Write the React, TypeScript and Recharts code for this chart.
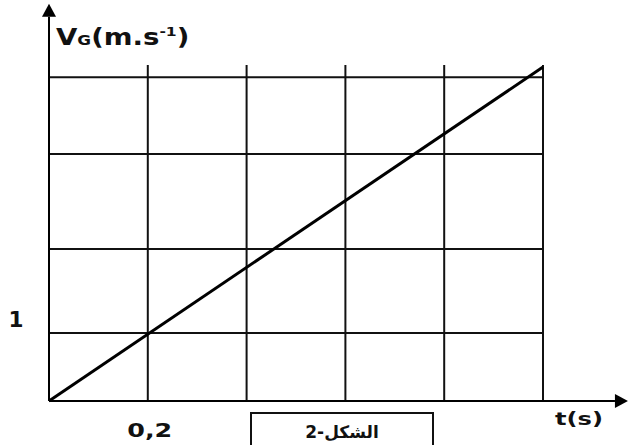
import { ComposedChart, Line, XAxis, YAxis, ReferenceLine } from 'recharts'

// t (s) and V_G (m/s) of the straight line
const times = [0, 1]
const speeds = [0, 4.91]

// grid / tick positions
const tTicks = [0, 0.2, 0.4, 0.6, 0.8, 1]
const vTicks = [0, 1, 2.235, 3.63, 4.76]
const tLabel = 0.2
const vLabel = 1

// axis extents (arrow tips)
const tMax = 1
const vMax = 4.94
const tArrow = 1.172
const vArrow = 5.84

const data = times.map((t, i) => ({ t, v: speeds[i] }))

const font = '"DejaVu Sans", Verdana, sans-serif'

function Arrow(props: any) {
  const { x1, y1, x2, y2 } = props
  const len = 13
  const half = 7
  const dx = x2 - x1
  const dy = y2 - y1
  const d = Math.sqrt(dx * dx + dy * dy) || 1
  const ux = dx / d
  const uy = dy / d
  const bx = x2 - ux * len
  const by = y2 - uy * len
  const pts = `${x2},${y2} ${bx - uy * half},${by + ux * half} ${bx + uy * half},${by - ux * half}`
  return (
    <g>
      <line x1={x1} y1={y1} x2={bx} y2={by} stroke="#000" strokeWidth={2} />
      <polygon points={pts} fill="#000" />
    </g>
  )
}

const renderYTick = (props: any) => {
  const { y, payload } = props
  if (payload.value !== vLabel) return <g />
  return (
    <text x={16} y={y - 6} textAnchor="middle" fontFamily={font} fontWeight="bold" fontSize={21} fill="#111"
      textLength={15} lengthAdjust="spacingAndGlyphs">
      1
    </text>
  )
}

const renderXTick = (props: any) => {
  const { x, payload } = props
  if (payload.value !== tLabel) return <g />
  return (
    <text x={x + 2} y={437} textAnchor="middle" fontFamily={font} fontWeight="bold" fontSize={20} fill="#111"
      textLength={45} lengthAdjust="spacingAndGlyphs">
      0,2
    </text>
  )
}

export default function App() {
  return (
    <div style={{ position: 'absolute', left: 0, top: 0, background: '#fff' }}>
      <ComposedChart width={630} height={445} data={data} margin={{ top: 65, right: 87, bottom: 0, left: 0 }}>
        <XAxis type="number" dataKey="t" domain={[0, tMax]} ticks={tTicks} height={44}
          axisLine={false} tickLine={false} interval={0} tick={renderXTick} />
        <YAxis type="number" domain={[0, vMax]} ticks={vTicks} width={49} allowDecimals
          axisLine={false} tickLine={false} interval={0} tick={renderYTick} />
        {tTicks.filter((t) => t > 0).map((t) => (
          <ReferenceLine key={'t' + t} segment={[{ x: t, y: 0 }, { x: t, y: vMax }]} ifOverflow="visible"
            stroke="#111" strokeWidth={2} />
        ))}
        {vTicks.filter((v) => v > 0).map((v) => (
          <ReferenceLine key={'v' + v} segment={[{ x: 0, y: v }, { x: tMax, y: v }]} ifOverflow="visible"
            stroke="#111" strokeWidth={2} />
        ))}
        <Line dataKey="v" stroke="#000" strokeWidth={3} dot={false} isAnimationActive={false} />
        <ReferenceLine segment={[{ x: 0, y: 0 }, { x: tArrow, y: 0 }]} ifOverflow="visible" shape={Arrow} />
        <ReferenceLine segment={[{ x: 0, y: 0 }, { x: 0, y: vArrow }]} ifOverflow="visible" shape={Arrow} />
        <g>
          <text transform="translate(56,45) scale(1.2,1)" fontFamily={font} fontWeight="bold" fontSize={23} fill="#111">
            V<tspan fontSize={14}>G</tspan>(m.s<tspan fontSize={13} dy={-9}>-1</tspan><tspan dy={9}>)</tspan>
          </text>
          <text x={579} y={425} textAnchor="middle" fontFamily={font} fontWeight="bold" fontSize={18} fill="#111"
            textLength={48} lengthAdjust="spacingAndGlyphs">
            t(s)
          </text>
          <rect x={251} y={413} width={182} height={60} fill="#fff" stroke="#111" strokeWidth={2} />
          <text x={342} y={438} textAnchor="middle" fontFamily={font} fontWeight="bold" fontSize={17} fill="#111">
            2-الشكل
          </text>
        </g>
      </ComposedChart>
    </div>
  )
}
